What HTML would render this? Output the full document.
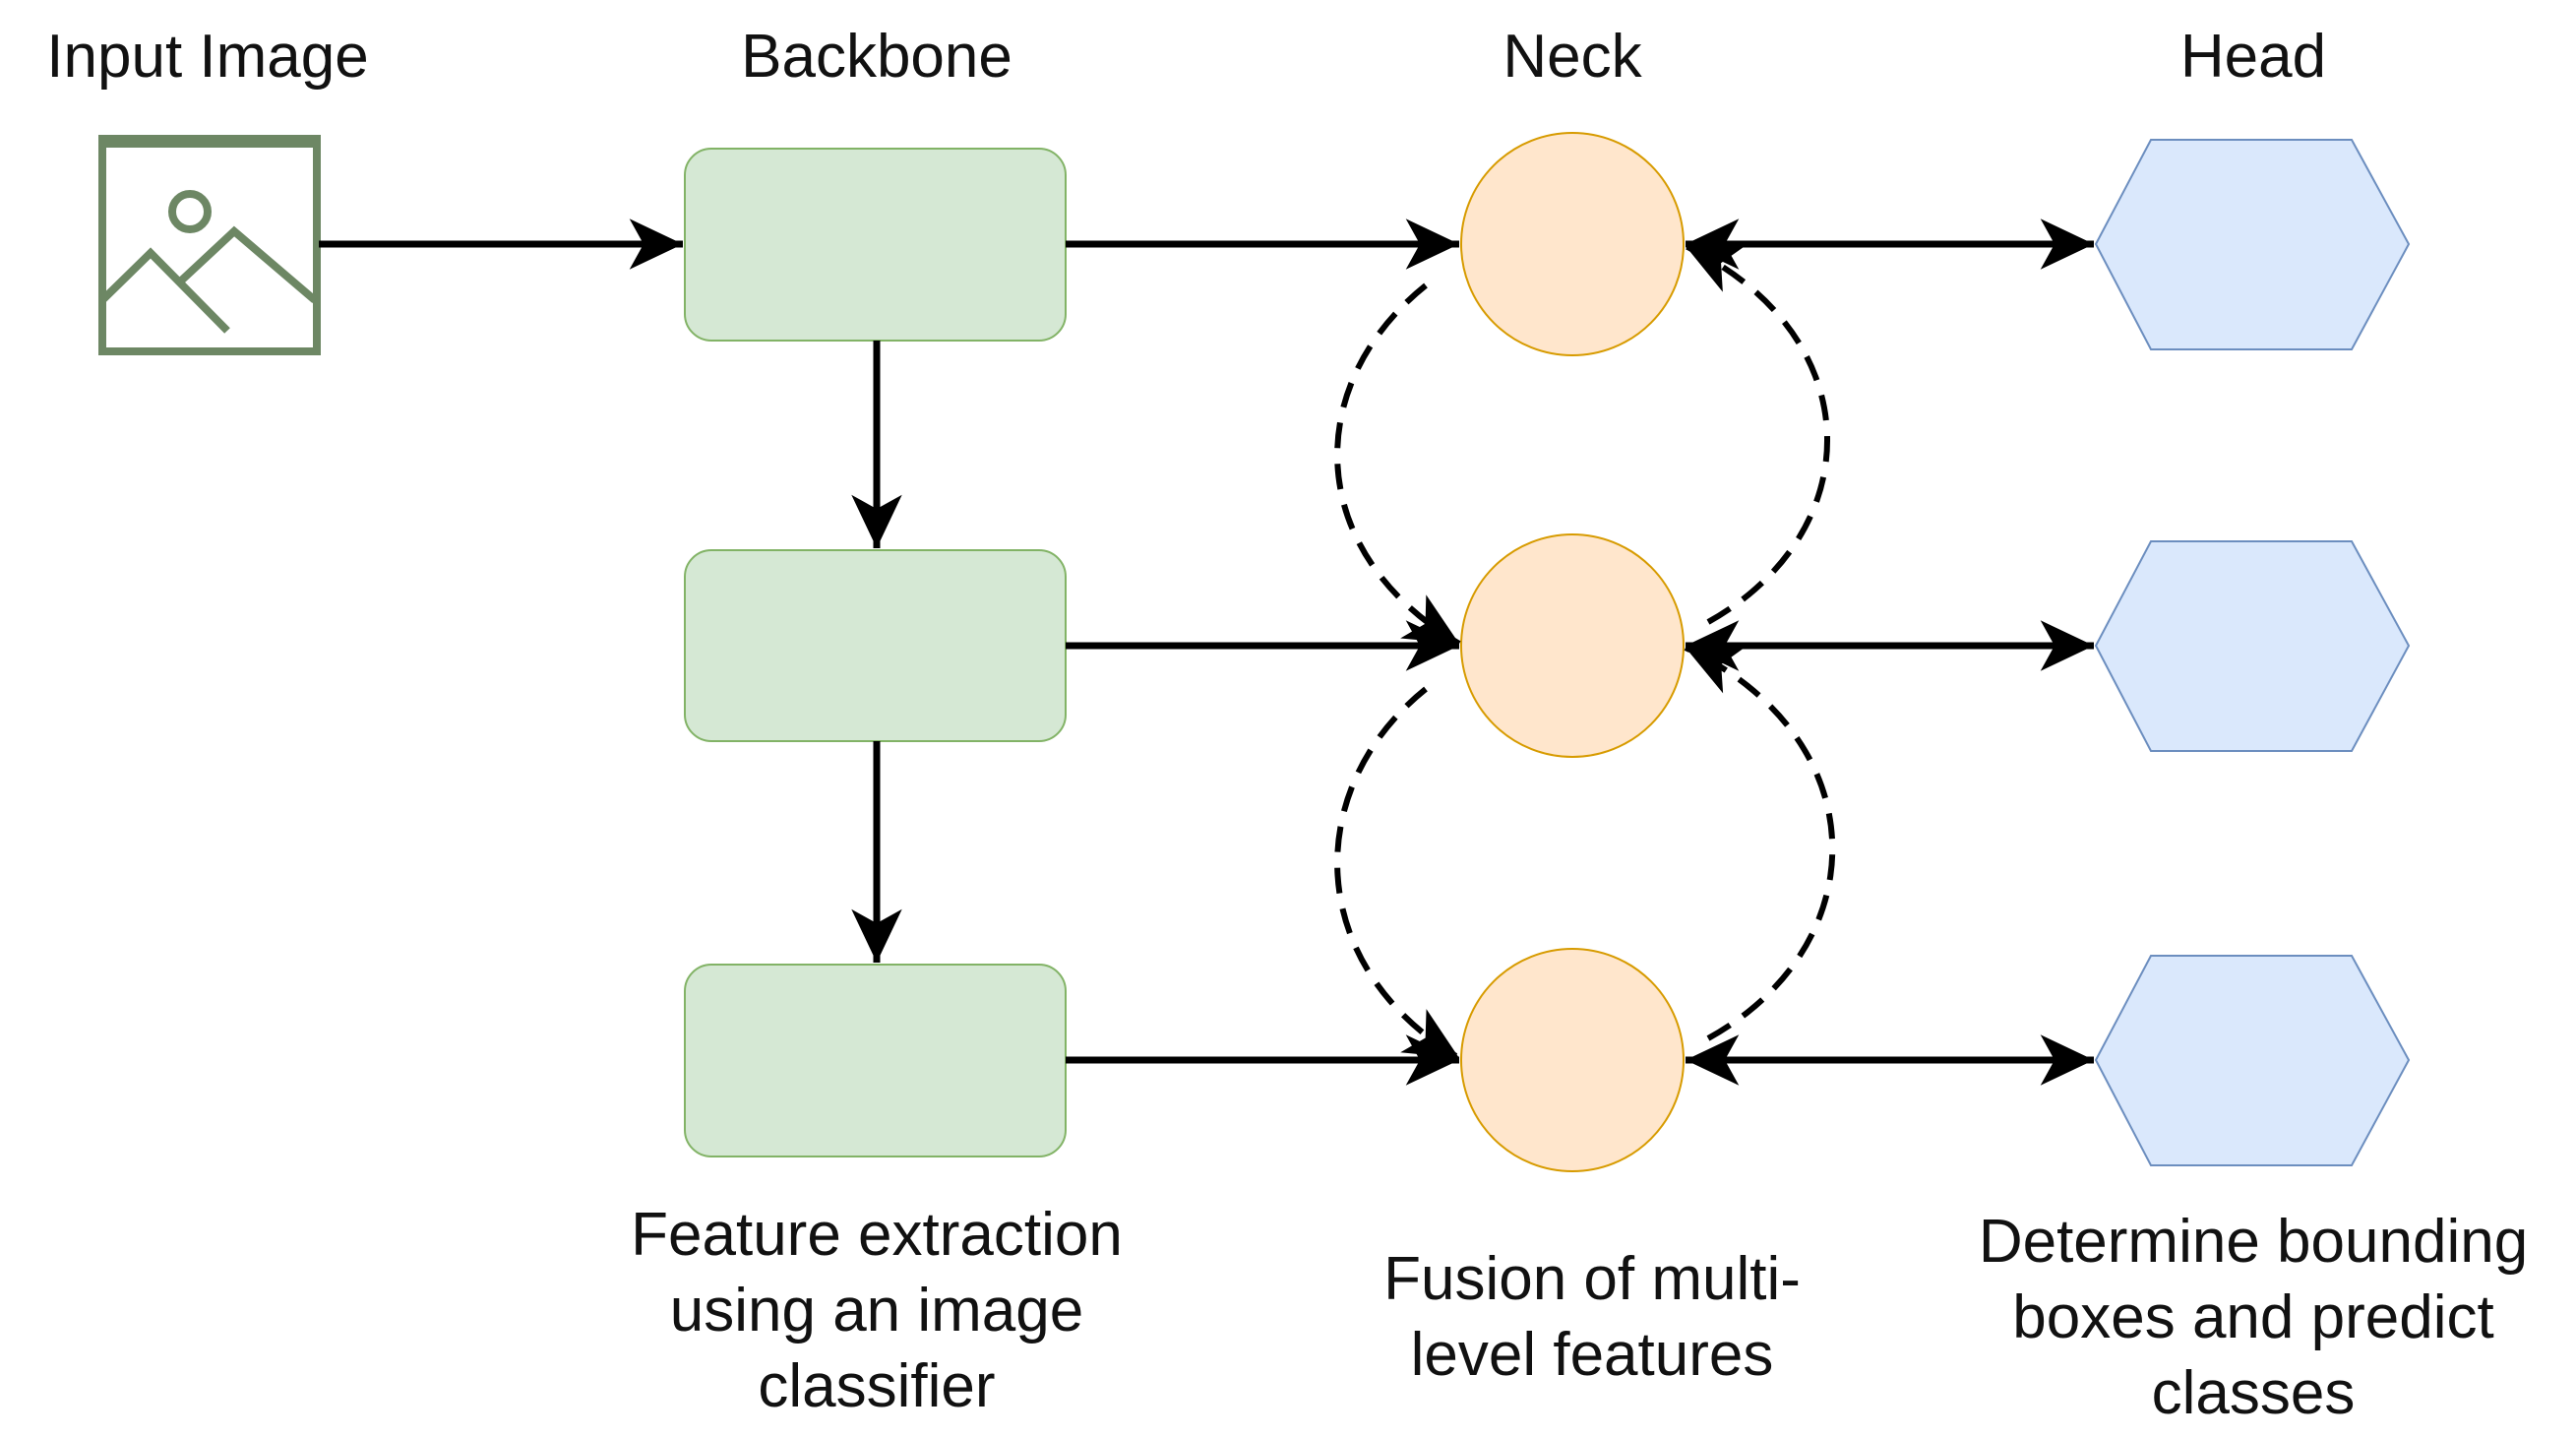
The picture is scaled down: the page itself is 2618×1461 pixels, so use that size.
<!DOCTYPE html>
<html><head><meta charset="utf-8"><style>
html,body{margin:0;padding:0;background:#fff;}
svg{display:block;}
text{font-family:"Liberation Sans",Arial,sans-serif;font-size:62px;fill:#111;text-anchor:middle;}
</style></head><body>
<svg width="2618" height="1461" viewBox="0 0 2618 1461" xmlns="http://www.w3.org/2000/svg">
<defs>
<marker id="a" markerUnits="userSpaceOnUse" markerWidth="60" markerHeight="60" viewBox="-40 -20 42 40" refX="0" refY="0" orient="auto-start-reverse">
<path d="M0,0 L-38,-18 L-28,0 L-38,18 Z" fill="#000"/>
</marker>
</defs>
<text x="211" y="78">Input Image</text>
<text x="891" y="78">Backbone</text>
<text x="1598" y="78">Neck</text>
<text x="2290" y="78">Head</text>
<g fill="none" stroke="#6d8764" stroke-width="8">
<rect x="104" y="141" width="218" height="216"/>
<line x1="104" y1="144" x2="322" y2="144" stroke-width="12"/>
<circle cx="193" cy="215" r="18"/>
<polyline points="104,305 153,257 231,336"/>
<polyline points="180,289 238,235 320,305"/>
</g>
<g fill="#d5e8d4" stroke="#82b366" stroke-width="2">
<rect x="696" y="151" width="387" height="195" rx="27"/>
<rect x="696" y="559" width="387" height="194" rx="27"/>
<rect x="696" y="980" width="387" height="195" rx="27"/>
</g>
<g fill="#ffe6cc" stroke="#d79b00" stroke-width="2">
<ellipse cx="1598" cy="248" rx="113" ry="113"/>
<ellipse cx="1598" cy="656" rx="113" ry="113"/>
<ellipse cx="1598" cy="1077" rx="113" ry="113"/>
</g>
<g fill="#dae8fc" stroke="#6c8ebf" stroke-width="2">
<polygon points="2130,248 2186,142 2390,142 2448,248 2390,355 2186,355"/>
<polygon points="2130,656 2186,550 2390,550 2448,656 2390,763 2186,763"/>
<polygon points="2130,1077 2186,971 2390,971 2448,1077 2390,1184 2186,1184"/>
</g>
<g stroke="#000" stroke-width="7" fill="none">
<line x1="324" y1="248" x2="694" y2="248" marker-end="url(#a)"/>
<line x1="1083" y1="248" x2="1483" y2="248" marker-end="url(#a)"/>
<line x1="1083" y1="656" x2="1483" y2="656" marker-end="url(#a)"/>
<line x1="1083" y1="1077" x2="1483" y2="1077" marker-end="url(#a)"/>
<line x1="891" y1="346" x2="891" y2="557" marker-end="url(#a)"/>
<line x1="891" y1="753" x2="891" y2="978" marker-end="url(#a)"/>
<line x1="1713" y1="248" x2="2128" y2="248" marker-start="url(#a)" marker-end="url(#a)"/>
<line x1="1713" y1="656" x2="2128" y2="656" marker-start="url(#a)" marker-end="url(#a)"/>
<line x1="1713" y1="1077" x2="2128" y2="1077" marker-start="url(#a)" marker-end="url(#a)"/>
</g>
<g stroke="#000" stroke-width="6" fill="none" stroke-dasharray="26,16">
<path d="M1449,290 C1324,390 1324,560 1483,654" marker-end="url(#a)"/>
<path d="M1736,632 C1901,540 1901,340 1713,250" marker-end="url(#a)"/>
<path d="M1449,700 C1324,800 1324,980 1483,1075" marker-end="url(#a)"/>
<path d="M1736,1055 C1908,960 1908,750 1713,658" marker-end="url(#a)"/>
</g>
<text x="891" y="1275">Feature extraction</text>
<text x="891" y="1352">using an image</text>
<text x="891" y="1429">classifier</text>
<text x="1618" y="1320">Fusion of multi-</text>
<text x="1618" y="1397">level features</text>
<text x="2290" y="1282">Determine bounding</text>
<text x="2290" y="1359">boxes and predict</text>
<text x="2290" y="1436">classes</text>
</svg>
</body></html>
